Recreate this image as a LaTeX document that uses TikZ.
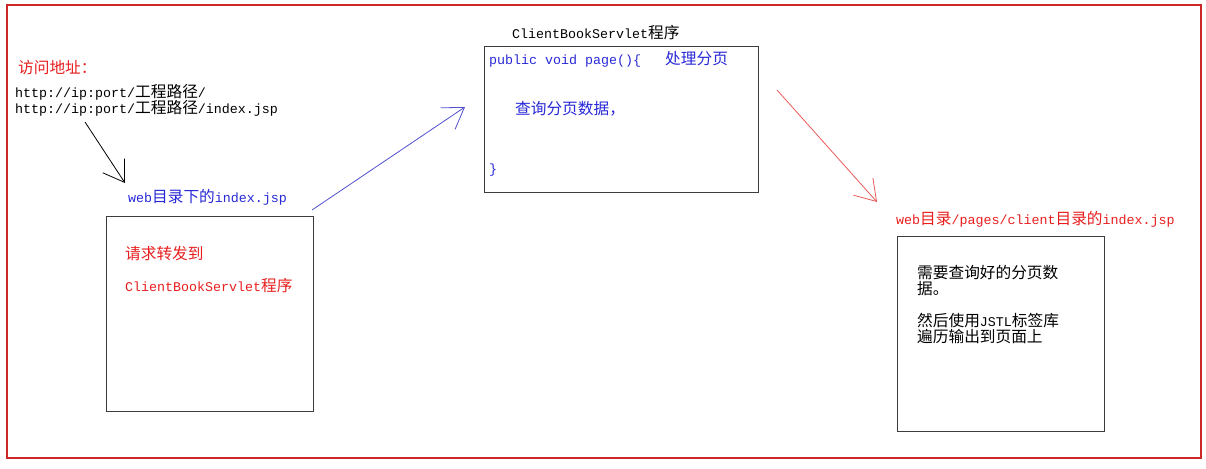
\documentclass[tikz,border=0pt]{standalone}
\usepackage{fontspec}
\setmainfont{Liberation Mono}[Scale=0.8333]
\newfontfamily\cjk{Noto Sans CJK SC}[Scale=0.98]
\newcommand\zh[1]{{\cjk #1}}
\usetikzlibrary{arrows.meta}
\definecolor{framered}{RGB}{204,40,40}
\definecolor{txtred}{RGB}{232,30,30}
\definecolor{txtblue}{RGB}{40,40,215}
\definecolor{lineblue}{RGB}{80,80,205}
\definecolor{linered}{RGB}{232,90,90}
\definecolor{boxgray}{RGB}{60,60,60}

\begin{document}
\begin{tikzpicture}[x=1pt,y=-1pt,
    lbl/.style={anchor=west,inner sep=0pt,font=\fontsize{16}{16}\selectfont},
    jspbox/.style={draw=boxgray,line width=1pt,minimum width=207pt,minimum height=195pt,inner sep=0pt},
    >={Straight Barb[length=20pt,width=26pt]}]
    \useasboundingbox (0,0) rectangle (1206,468);
    \draw[framered,line width=1.5pt] (7,5) rectangle (1201,458);

    % boxes
    \node[jspbox] (box1) at (209.5,313.5) {};
    \node[jspbox,minimum width=274pt,minimum height=145pt] (box2) at (621,119.5) {};
    \node[jspbox] (box3) at (1000.5,333.5) {};

    \begin{scope}[every node/.style={lbl}]
      \node[txtred] (addr) at (18,68) {\zh{访问地址：}};
      \node (url1) at (15,92) {http://ip:port/\zh{工程路径}/};
      \node (url2) at (15,108) {http://ip:port/\zh{工程路径}/index.jsp};
      \node[txtblue] (weblbl) at (128,197) {web\zh{目录下的}index.jsp};
      \node[txtred] (fwd1) at (125,254) {\zh{请求转发到}};
      \node[txtred] (fwd2) at (125,286) {ClientBookServlet\zh{程序}};
      \node (srvlbl) at (512,33) {ClientBookServlet\zh{程序}};
      \node[txtblue] (code1) at (489,59) {public void page()\{\hspace*{24pt}\zh{处理分页}};
      \node[txtblue] (code2) at (515,109) {\zh{查询分页数据，}};
      \node[txtblue] (code3) at (489,170) {\}};
      \node[txtred] (jsplbl) at (896,219) {web\zh{目录}/pages/client\zh{目录的}index.jsp};
      \node (out1) at (917,273) {\zh{需要查询好的分页数}};
      \node (out2) at (917,289) {\zh{据。}};
      \node (out3) at (917,321) {\zh{然后使用}JSTL\zh{标签库}};
      \node (out4) at (917,337) {\zh{遍历输出到页面上}};
    \end{scope}

    % arrow ends
    \coordinate (a1s) at (85,122);
    \coordinate (a1e) at (125,183);
    \coordinate (a2s) at (312,210);
    \coordinate (a2e) at (465,107);
    \coordinate (a3s) at (777,90);
    \coordinate (a3e) at (877,202);

    \draw[->,line width=0.8pt] (a1s) -- (a1e);
    \draw[->,lineblue,line width=0.8pt] (a2s) -- (a2e);
    \draw[->,linered,line width=0.8pt] (a3s) -- (a3e);
\end{tikzpicture}
\end{document}
